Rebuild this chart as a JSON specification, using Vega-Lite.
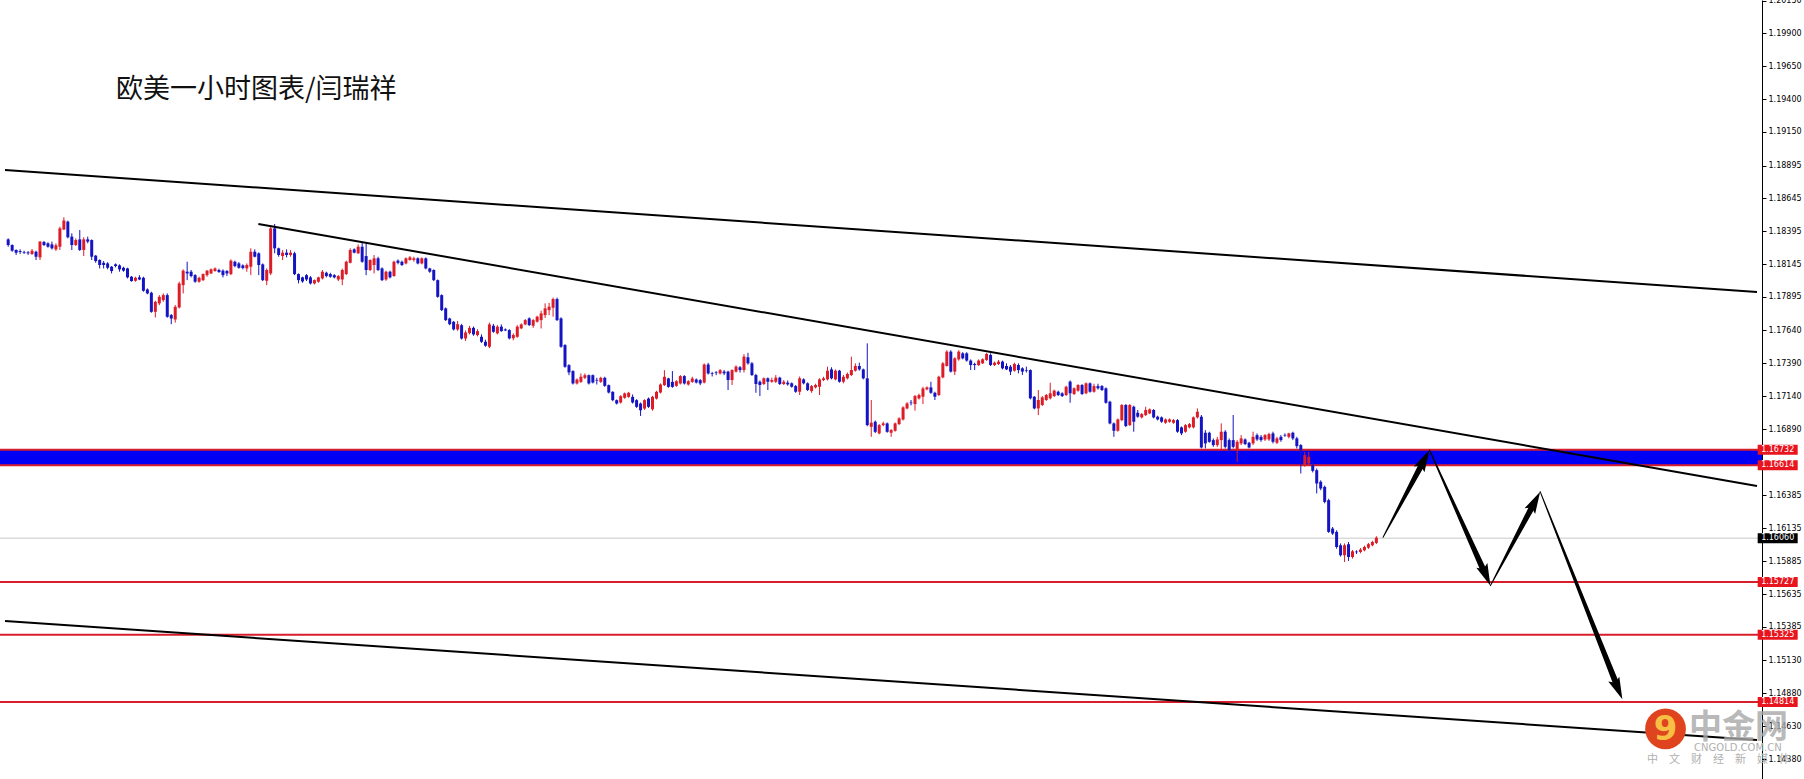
{
"$schema": "https://vega.github.io/schema/vega-lite/v6.json",
"width": 1762, "height": 779,
"autosize": {"type": "none"},
"padding": {"left": 0, "top": 0, "right": 42, "bottom": 0},
"background": "#ffffff",
"config": {"view": {"stroke": null},
  "axisY": {"zindex": 0, "labelFont": "DejaVu Sans", "labelFontSize": 8, "labelColor": "#000000", "tickColor": "#000000", "tickSize": 4, "labelPadding": 2, "domainColor": "#000000", "domainWidth": 1, "labelOverlap": false, "labelBound": false, "labelFlush": false, "grid": false}},
"datasets": {
"candles": [
{"i":1,"o":1.18333,"h":1.18341,"l":1.18277,"c":1.18290},
{"i":2,"o":1.18290,"h":1.18295,"l":1.18239,"c":1.18247},
{"i":3,"o":1.18252,"h":1.18257,"l":1.18215,"c":1.18232},
{"i":4,"o":1.18244,"h":1.18257,"l":1.18222,"c":1.18237},
{"i":5,"o":1.18237,"h":1.18247,"l":1.18222,"c":1.18232},
{"i":6,"o":1.18234,"h":1.18244,"l":1.18215,"c":1.18227},
{"i":7,"o":1.18222,"h":1.18260,"l":1.18215,"c":1.18247},
{"i":8,"o":1.18239,"h":1.18247,"l":1.18176,"c":1.18201},
{"i":9,"o":1.18196,"h":1.18321,"l":1.18176,"c":1.18316},
{"i":10,"o":1.18313,"h":1.18321,"l":1.18283,"c":1.18290},
{"i":11,"o":1.18303,"h":1.18311,"l":1.18270,"c":1.18277},
{"i":12,"o":1.18295,"h":1.18316,"l":1.18255,"c":1.18265},
{"i":13,"o":1.18257,"h":1.18303,"l":1.18245,"c":1.18288},
{"i":14,"o":1.18277,"h":1.18430,"l":1.18252,"c":1.18417},
{"i":15,"o":1.18409,"h":1.18501,"l":1.18404,"c":1.18476},
{"i":16,"o":1.18468,"h":1.18476,"l":1.18341,"c":1.18349},
{"i":17,"o":1.18354,"h":1.18379,"l":1.18252,"c":1.18290},
{"i":18,"o":1.18290,"h":1.18341,"l":1.18283,"c":1.18328},
{"i":19,"o":1.18333,"h":1.18404,"l":1.18245,"c":1.18252},
{"i":20,"o":1.18252,"h":1.18349,"l":1.18206,"c":1.18333},
{"i":21,"o":1.18333,"h":1.18354,"l":1.18303,"c":1.18316},
{"i":22,"o":1.18328,"h":1.18333,"l":1.18176,"c":1.18201},
{"i":23,"o":1.18209,"h":1.18214,"l":1.18155,"c":1.18168},
{"i":24,"o":1.18176,"h":1.18181,"l":1.18112,"c":1.18138},
{"i":25,"o":1.18155,"h":1.18168,"l":1.18112,"c":1.18138},
{"i":26,"o":1.18150,"h":1.18160,"l":1.18105,"c":1.18117},
{"i":27,"o":1.18125,"h":1.18130,"l":1.18074,"c":1.18092},
{"i":28,"o":1.18143,"h":1.18150,"l":1.18120,"c":1.18130},
{"i":29,"o":1.18135,"h":1.18143,"l":1.18087,"c":1.18105},
{"i":30,"o":1.18117,"h":1.18125,"l":1.18087,"c":1.18095},
{"i":31,"o":1.18112,"h":1.18117,"l":1.18036,"c":1.18044},
{"i":32,"o":1.18049,"h":1.18054,"l":1.18011,"c":1.18016},
{"i":33,"o":1.18018,"h":1.18049,"l":1.18011,"c":1.18041},
{"i":34,"o":1.18044,"h":1.18061,"l":1.18023,"c":1.18028},
{"i":35,"o":1.18041,"h":1.18049,"l":1.17935,"c":1.17942},
{"i":36,"o":1.17952,"h":1.17960,"l":1.17915,"c":1.17922},
{"i":37,"o":1.17927,"h":1.17935,"l":1.17775,"c":1.17782},
{"i":38,"o":1.17782,"h":1.17866,"l":1.17739,"c":1.17858},
{"i":39,"o":1.17846,"h":1.17909,"l":1.17833,"c":1.17896},
{"i":40,"o":1.17871,"h":1.17922,"l":1.17858,"c":1.17909},
{"i":41,"o":1.17909,"h":1.17922,"l":1.17737,"c":1.17744},
{"i":42,"o":1.17757,"h":1.17765,"l":1.17688,"c":1.17731},
{"i":43,"o":1.17724,"h":1.17833,"l":1.17700,"c":1.17820},
{"i":44,"o":1.17815,"h":1.18011,"l":1.17808,"c":1.17998},
{"i":45,"o":1.17985,"h":1.18105,"l":1.17922,"c":1.18095},
{"i":46,"o":1.18087,"h":1.18163,"l":1.18023,"c":1.18074},
{"i":47,"o":1.18087,"h":1.18100,"l":1.18044,"c":1.18054},
{"i":48,"o":1.18061,"h":1.18069,"l":1.18003,"c":1.18011},
{"i":49,"o":1.18011,"h":1.18049,"l":1.18003,"c":1.18041},
{"i":50,"o":1.18023,"h":1.18074,"l":1.18016,"c":1.18069},
{"i":51,"o":1.18061,"h":1.18100,"l":1.18049,"c":1.18095},
{"i":52,"o":1.18074,"h":1.18112,"l":1.18069,"c":1.18105},
{"i":53,"o":1.18092,"h":1.18120,"l":1.18087,"c":1.18112},
{"i":54,"o":1.18100,"h":1.18110,"l":1.18079,"c":1.18084},
{"i":55,"o":1.18095,"h":1.18105,"l":1.18044,"c":1.18061},
{"i":56,"o":1.18092,"h":1.18100,"l":1.18054,"c":1.18074},
{"i":57,"o":1.18069,"h":1.18181,"l":1.18061,"c":1.18171},
{"i":58,"o":1.18163,"h":1.18171,"l":1.18120,"c":1.18130},
{"i":59,"o":1.18150,"h":1.18160,"l":1.18110,"c":1.18117},
{"i":60,"o":1.18135,"h":1.18143,"l":1.18105,"c":1.18115},
{"i":61,"o":1.18112,"h":1.18150,"l":1.18087,"c":1.18138},
{"i":62,"o":1.18125,"h":1.18265,"l":1.18061,"c":1.18239},
{"i":63,"o":1.18239,"h":1.18257,"l":1.18196,"c":1.18201},
{"i":64,"o":1.18227,"h":1.18234,"l":1.18061,"c":1.18138},
{"i":65,"o":1.18143,"h":1.18150,"l":1.18016,"c":1.18023},
{"i":66,"o":1.18018,"h":1.18112,"l":1.17985,"c":1.18100},
{"i":67,"o":1.18074,"h":1.18442,"l":1.18061,"c":1.18417},
{"i":68,"o":1.18417,"h":1.18450,"l":1.18227,"c":1.18265},
{"i":69,"o":1.18265,"h":1.18270,"l":1.18201,"c":1.18214},
{"i":70,"o":1.18206,"h":1.18252,"l":1.18176,"c":1.18232},
{"i":71,"o":1.18232,"h":1.18257,"l":1.18196,"c":1.18214},
{"i":72,"o":1.18214,"h":1.18252,"l":1.18201,"c":1.18232},
{"i":73,"o":1.18227,"h":1.18239,"l":1.18061,"c":1.18069},
{"i":74,"o":1.18069,"h":1.18074,"l":1.17998,"c":1.18023},
{"i":75,"o":1.18044,"h":1.18049,"l":1.18003,"c":1.18013},
{"i":76,"o":1.18061,"h":1.18069,"l":1.18016,"c":1.18028},
{"i":77,"o":1.18044,"h":1.18054,"l":1.17990,"c":1.17998},
{"i":78,"o":1.17998,"h":1.18028,"l":1.17990,"c":1.18023},
{"i":79,"o":1.18011,"h":1.18049,"l":1.18003,"c":1.18044},
{"i":80,"o":1.18036,"h":1.18100,"l":1.18028,"c":1.18087},
{"i":81,"o":1.18079,"h":1.18087,"l":1.18044,"c":1.18054},
{"i":82,"o":1.18069,"h":1.18079,"l":1.18041,"c":1.18049},
{"i":83,"o":1.18061,"h":1.18069,"l":1.18036,"c":1.18044},
{"i":84,"o":1.18028,"h":1.18061,"l":1.18016,"c":1.18054},
{"i":85,"o":1.18028,"h":1.18110,"l":1.17985,"c":1.18100},
{"i":86,"o":1.18069,"h":1.18171,"l":1.18061,"c":1.18163},
{"i":87,"o":1.18155,"h":1.18265,"l":1.18150,"c":1.18252},
{"i":88,"o":1.18257,"h":1.18265,"l":1.18227,"c":1.18232},
{"i":89,"o":1.18227,"h":1.18295,"l":1.18222,"c":1.18277},
{"i":90,"o":1.18277,"h":1.18311,"l":1.18155,"c":1.18163},
{"i":91,"o":1.18206,"h":1.18303,"l":1.18061,"c":1.18100},
{"i":92,"o":1.18100,"h":1.18181,"l":1.18092,"c":1.18176},
{"i":93,"o":1.18138,"h":1.18214,"l":1.18074,"c":1.18189},
{"i":94,"o":1.18189,"h":1.18201,"l":1.18092,"c":1.18100},
{"i":95,"o":1.18112,"h":1.18120,"l":1.18016,"c":1.18023},
{"i":96,"o":1.18028,"h":1.18095,"l":1.18018,"c":1.18087},
{"i":97,"o":1.18087,"h":1.18095,"l":1.18036,"c":1.18044},
{"i":98,"o":1.18054,"h":1.18171,"l":1.18049,"c":1.18163},
{"i":99,"o":1.18171,"h":1.18181,"l":1.18143,"c":1.18155},
{"i":100,"o":1.18163,"h":1.18171,"l":1.18130,"c":1.18138},
{"i":101,"o":1.18150,"h":1.18196,"l":1.18143,"c":1.18189},
{"i":102,"o":1.18176,"h":1.18206,"l":1.18171,"c":1.18196},
{"i":103,"o":1.18176,"h":1.18201,"l":1.18163,"c":1.18189},
{"i":104,"o":1.18189,"h":1.18196,"l":1.18143,"c":1.18150},
{"i":105,"o":1.18150,"h":1.18196,"l":1.18143,"c":1.18189},
{"i":106,"o":1.18189,"h":1.18196,"l":1.18105,"c":1.18112},
{"i":107,"o":1.18112,"h":1.18117,"l":1.18079,"c":1.18087},
{"i":108,"o":1.18100,"h":1.18105,"l":1.18016,"c":1.18023},
{"i":109,"o":1.18023,"h":1.18028,"l":1.17889,"c":1.17896},
{"i":110,"o":1.17909,"h":1.17915,"l":1.17788,"c":1.17795},
{"i":111,"o":1.17808,"h":1.17815,"l":1.17712,"c":1.17719},
{"i":112,"o":1.17731,"h":1.17737,"l":1.17680,"c":1.17688},
{"i":113,"o":1.17706,"h":1.17712,"l":1.17640,"c":1.17648},
{"i":114,"o":1.17648,"h":1.17712,"l":1.17637,"c":1.17688},
{"i":115,"o":1.17680,"h":1.17690,"l":1.17571,"c":1.17579},
{"i":116,"o":1.17579,"h":1.17640,"l":1.17560,"c":1.17625},
{"i":117,"o":1.17620,"h":1.17675,"l":1.17610,"c":1.17660},
{"i":118,"o":1.17660,"h":1.17670,"l":1.17600,"c":1.17610},
{"i":119,"o":1.17605,"h":1.17650,"l":1.17595,"c":1.17635},
{"i":120,"o":1.17592,"h":1.17610,"l":1.17545,"c":1.17554},
{"i":121,"o":1.17554,"h":1.17570,"l":1.17516,"c":1.17524},
{"i":122,"o":1.17516,"h":1.17700,"l":1.17505,"c":1.17686},
{"i":123,"o":1.17676,"h":1.17690,"l":1.17622,"c":1.17630},
{"i":124,"o":1.17618,"h":1.17681,"l":1.17610,"c":1.17669},
{"i":125,"o":1.17669,"h":1.17686,"l":1.17630,"c":1.17635},
{"i":126,"o":1.17648,"h":1.17656,"l":1.17635,"c":1.17640},
{"i":127,"o":1.17643,"h":1.17650,"l":1.17572,"c":1.17580},
{"i":128,"o":1.17580,"h":1.17618,"l":1.17565,"c":1.17605},
{"i":129,"o":1.17592,"h":1.17681,"l":1.17585,"c":1.17669},
{"i":130,"o":1.17656,"h":1.17694,"l":1.17650,"c":1.17686},
{"i":131,"o":1.17686,"h":1.17727,"l":1.17680,"c":1.17719},
{"i":132,"o":1.17732,"h":1.17740,"l":1.17674,"c":1.17681},
{"i":133,"o":1.17676,"h":1.17727,"l":1.17660,"c":1.17719},
{"i":134,"o":1.17707,"h":1.17752,"l":1.17700,"c":1.17745},
{"i":135,"o":1.17719,"h":1.17790,"l":1.17655,"c":1.17770},
{"i":136,"o":1.17757,"h":1.17846,"l":1.17735,"c":1.17808},
{"i":137,"o":1.17795,"h":1.17850,"l":1.17757,"c":1.17821},
{"i":138,"o":1.17813,"h":1.17890,"l":1.17745,"c":1.17879},
{"i":139,"o":1.17879,"h":1.17890,"l":1.17712,"c":1.17719},
{"i":140,"o":1.17732,"h":1.17740,"l":1.17509,"c":1.17516},
{"i":141,"o":1.17529,"h":1.17536,"l":1.17356,"c":1.17364},
{"i":142,"o":1.17376,"h":1.17384,"l":1.17300,"c":1.17321},
{"i":143,"o":1.17331,"h":1.17338,"l":1.17229,"c":1.17237},
{"i":144,"o":1.17237,"h":1.17275,"l":1.17229,"c":1.17267},
{"i":145,"o":1.17249,"h":1.17313,"l":1.17241,"c":1.17288},
{"i":146,"o":1.17280,"h":1.17313,"l":1.17270,"c":1.17300},
{"i":147,"o":1.17300,"h":1.17305,"l":1.17229,"c":1.17237},
{"i":148,"o":1.17300,"h":1.17305,"l":1.17237,"c":1.17244},
{"i":149,"o":1.17264,"h":1.17280,"l":1.17229,"c":1.17259},
{"i":150,"o":1.17249,"h":1.17288,"l":1.17241,"c":1.17280},
{"i":151,"o":1.17280,"h":1.17288,"l":1.17211,"c":1.17219},
{"i":152,"o":1.17224,"h":1.17229,"l":1.17161,"c":1.17168},
{"i":153,"o":1.17173,"h":1.17178,"l":1.17102,"c":1.17110},
{"i":154,"o":1.17110,"h":1.17115,"l":1.17077,"c":1.17084},
{"i":155,"o":1.17092,"h":1.17148,"l":1.17084,"c":1.17140},
{"i":156,"o":1.17128,"h":1.17168,"l":1.17120,"c":1.17161},
{"i":157,"o":1.17135,"h":1.17173,"l":1.17128,"c":1.17166},
{"i":158,"o":1.17135,"h":1.17153,"l":1.17084,"c":1.17092},
{"i":159,"o":1.17110,"h":1.17117,"l":1.17051,"c":1.17059},
{"i":160,"o":1.17084,"h":1.17092,"l":1.16990,"c":1.17033},
{"i":161,"o":1.17046,"h":1.17117,"l":1.17036,"c":1.17110},
{"i":162,"o":1.17122,"h":1.17130,"l":1.17051,"c":1.17059},
{"i":163,"o":1.17041,"h":1.17143,"l":1.17030,"c":1.17135},
{"i":164,"o":1.17122,"h":1.17181,"l":1.17115,"c":1.17173},
{"i":165,"o":1.17168,"h":1.17237,"l":1.17161,"c":1.17229},
{"i":166,"o":1.17224,"h":1.17338,"l":1.17218,"c":1.17288},
{"i":167,"o":1.17275,"h":1.17280,"l":1.17204,"c":1.17211},
{"i":168,"o":1.17249,"h":1.17331,"l":1.17204,"c":1.17211},
{"i":169,"o":1.17219,"h":1.17262,"l":1.17211,"c":1.17254},
{"i":170,"o":1.17237,"h":1.17300,"l":1.17229,"c":1.17293},
{"i":171,"o":1.17293,"h":1.17300,"l":1.17229,"c":1.17237},
{"i":172,"o":1.17229,"h":1.17262,"l":1.17221,"c":1.17254},
{"i":173,"o":1.17249,"h":1.17288,"l":1.17241,"c":1.17275},
{"i":174,"o":1.17267,"h":1.17275,"l":1.17237,"c":1.17244},
{"i":175,"o":1.17262,"h":1.17270,"l":1.17224,"c":1.17237},
{"i":176,"o":1.17244,"h":1.17389,"l":1.17237,"c":1.17381},
{"i":177,"o":1.17381,"h":1.17394,"l":1.17305,"c":1.17313},
{"i":178,"o":1.17316,"h":1.17325,"l":1.17290,"c":1.17311},
{"i":179,"o":1.17321,"h":1.17331,"l":1.17300,"c":1.17316},
{"i":180,"o":1.17313,"h":1.17346,"l":1.17305,"c":1.17338},
{"i":181,"o":1.17327,"h":1.17340,"l":1.17300,"c":1.17314},
{"i":182,"o":1.17327,"h":1.17334,"l":1.17187,"c":1.17263},
{"i":183,"o":1.17263,"h":1.17344,"l":1.17225,"c":1.17339},
{"i":184,"o":1.17327,"h":1.17375,"l":1.17320,"c":1.17365},
{"i":185,"o":1.17360,"h":1.17370,"l":1.17320,"c":1.17339},
{"i":186,"o":1.17339,"h":1.17460,"l":1.17320,"c":1.17441},
{"i":187,"o":1.17436,"h":1.17470,"l":1.17380,"c":1.17390},
{"i":188,"o":1.17390,"h":1.17400,"l":1.17294,"c":1.17301},
{"i":189,"o":1.17301,"h":1.17310,"l":1.17166,"c":1.17233},
{"i":190,"o":1.17250,"h":1.17260,"l":1.17141,"c":1.17225},
{"i":191,"o":1.17233,"h":1.17283,"l":1.17225,"c":1.17276},
{"i":192,"o":1.17276,"h":1.17283,"l":1.17187,"c":1.17250},
{"i":193,"o":1.17250,"h":1.17281,"l":1.17243,"c":1.17263},
{"i":194,"o":1.17250,"h":1.17301,"l":1.17240,"c":1.17281},
{"i":195,"o":1.17281,"h":1.17288,"l":1.17225,"c":1.17233},
{"i":196,"o":1.17233,"h":1.17263,"l":1.17225,"c":1.17250},
{"i":197,"o":1.17243,"h":1.17260,"l":1.17220,"c":1.17230},
{"i":198,"o":1.17238,"h":1.17245,"l":1.17205,"c":1.17212},
{"i":199,"o":1.17217,"h":1.17225,"l":1.17166,"c":1.17174},
{"i":200,"o":1.17174,"h":1.17290,"l":1.17149,"c":1.17276},
{"i":201,"o":1.17268,"h":1.17276,"l":1.17230,"c":1.17238},
{"i":202,"o":1.17238,"h":1.17245,"l":1.17179,"c":1.17187},
{"i":203,"o":1.17179,"h":1.17225,"l":1.17166,"c":1.17217},
{"i":204,"o":1.17207,"h":1.17235,"l":1.17199,"c":1.17225},
{"i":205,"o":1.17212,"h":1.17276,"l":1.17149,"c":1.17268},
{"i":206,"o":1.17263,"h":1.17288,"l":1.17255,"c":1.17276},
{"i":207,"o":1.17268,"h":1.17365,"l":1.17260,"c":1.17334},
{"i":208,"o":1.17344,"h":1.17360,"l":1.17268,"c":1.17276},
{"i":209,"o":1.17268,"h":1.17344,"l":1.17260,"c":1.17334},
{"i":210,"o":1.17334,"h":1.17340,"l":1.17243,"c":1.17250},
{"i":211,"o":1.17250,"h":1.17301,"l":1.17238,"c":1.17288},
{"i":212,"o":1.17276,"h":1.17320,"l":1.17268,"c":1.17309},
{"i":213,"o":1.17301,"h":1.17441,"l":1.17294,"c":1.17339},
{"i":214,"o":1.17334,"h":1.17390,"l":1.17327,"c":1.17370},
{"i":215,"o":1.17370,"h":1.17395,"l":1.17334,"c":1.17344},
{"i":216,"o":1.17344,"h":1.17350,"l":1.17268,"c":1.17276},
{"i":217,"o":1.17276,"h":1.17542,"l":1.16912,"c":1.16920},
{"i":218,"o":1.16907,"h":1.17111,"l":1.16831,"c":1.16938},
{"i":219,"o":1.16946,"h":1.16955,"l":1.16860,"c":1.16869},
{"i":220,"o":1.16857,"h":1.16928,"l":1.16850,"c":1.16920},
{"i":221,"o":1.16920,"h":1.16946,"l":1.16912,"c":1.16933},
{"i":222,"o":1.16933,"h":1.16940,"l":1.16862,"c":1.16869},
{"i":223,"o":1.16862,"h":1.16890,"l":1.16831,"c":1.16882},
{"i":224,"o":1.16877,"h":1.16940,"l":1.16870,"c":1.16933},
{"i":225,"o":1.16928,"h":1.16980,"l":1.16920,"c":1.16971},
{"i":226,"o":1.16963,"h":1.17063,"l":1.16955,"c":1.17055},
{"i":227,"o":1.17047,"h":1.17095,"l":1.17040,"c":1.17085},
{"i":228,"o":1.17092,"h":1.17111,"l":1.17070,"c":1.17087},
{"i":229,"o":1.17080,"h":1.17149,"l":1.17030,"c":1.17141},
{"i":230,"o":1.17123,"h":1.17160,"l":1.17115,"c":1.17149},
{"i":231,"o":1.17136,"h":1.17212,"l":1.17080,"c":1.17199},
{"i":232,"o":1.17192,"h":1.17215,"l":1.17185,"c":1.17207},
{"i":233,"o":1.17207,"h":1.17250,"l":1.17158,"c":1.17166},
{"i":234,"o":1.17166,"h":1.17174,"l":1.17111,"c":1.17136},
{"i":235,"o":1.17149,"h":1.17296,"l":1.17141,"c":1.17288},
{"i":236,"o":1.17283,"h":1.17400,"l":1.17276,"c":1.17390},
{"i":237,"o":1.17370,"h":1.17490,"l":1.17365,"c":1.17479},
{"i":238,"o":1.17479,"h":1.17490,"l":1.17320,"c":1.17327},
{"i":239,"o":1.17327,"h":1.17436,"l":1.17301,"c":1.17428},
{"i":240,"o":1.17420,"h":1.17490,"l":1.17410,"c":1.17479},
{"i":241,"o":1.17466,"h":1.17475,"l":1.17420,"c":1.17428},
{"i":242,"o":1.17466,"h":1.17475,"l":1.17403,"c":1.17411},
{"i":243,"o":1.17411,"h":1.17420,"l":1.17339,"c":1.17377},
{"i":244,"o":1.17385,"h":1.17395,"l":1.17339,"c":1.17377},
{"i":245,"o":1.17377,"h":1.17420,"l":1.17370,"c":1.17411},
{"i":246,"o":1.17390,"h":1.17428,"l":1.17385,"c":1.17421},
{"i":247,"o":1.17416,"h":1.17470,"l":1.17408,"c":1.17461},
{"i":248,"o":1.17454,"h":1.17466,"l":1.17370,"c":1.17377},
{"i":249,"o":1.17377,"h":1.17403,"l":1.17370,"c":1.17395},
{"i":250,"o":1.17385,"h":1.17416,"l":1.17377,"c":1.17403},
{"i":251,"o":1.17403,"h":1.17411,"l":1.17344,"c":1.17352},
{"i":252,"o":1.17370,"h":1.17390,"l":1.17339,"c":1.17344},
{"i":253,"o":1.17365,"h":1.17377,"l":1.17301,"c":1.17327},
{"i":254,"o":1.17334,"h":1.17395,"l":1.17327,"c":1.17385},
{"i":255,"o":1.17377,"h":1.17390,"l":1.17314,"c":1.17339},
{"i":256,"o":1.17352,"h":1.17360,"l":1.17301,"c":1.17327},
{"i":257,"o":1.17339,"h":1.17365,"l":1.17320,"c":1.17334},
{"i":258,"o":1.17339,"h":1.17344,"l":1.17116,"c":1.17124},
{"i":259,"o":1.17136,"h":1.17141,"l":1.17040,"c":1.17047},
{"i":260,"o":1.17047,"h":1.17187,"l":1.16996,"c":1.17111},
{"i":261,"o":1.17073,"h":1.17141,"l":1.17065,"c":1.17131},
{"i":262,"o":1.17111,"h":1.17157,"l":1.17104,"c":1.17149},
{"i":263,"o":1.17124,"h":1.17243,"l":1.17116,"c":1.17162},
{"i":264,"o":1.17141,"h":1.17190,"l":1.17134,"c":1.17182},
{"i":265,"o":1.17174,"h":1.17182,"l":1.17141,"c":1.17149},
{"i":266,"o":1.17162,"h":1.17170,"l":1.17134,"c":1.17141},
{"i":267,"o":1.17149,"h":1.17220,"l":1.17141,"c":1.17212},
{"i":268,"o":1.17251,"h":1.17260,"l":1.17090,"c":1.17162},
{"i":269,"o":1.17157,"h":1.17207,"l":1.17149,"c":1.17200},
{"i":270,"o":1.17182,"h":1.17232,"l":1.17174,"c":1.17225},
{"i":271,"o":1.17225,"h":1.17232,"l":1.17149,"c":1.17157},
{"i":272,"o":1.17162,"h":1.17245,"l":1.17155,"c":1.17238},
{"i":273,"o":1.17238,"h":1.17245,"l":1.17167,"c":1.17174},
{"i":274,"o":1.17174,"h":1.17235,"l":1.17167,"c":1.17217},
{"i":275,"o":1.17217,"h":1.17235,"l":1.17190,"c":1.17200},
{"i":276,"o":1.17217,"h":1.17225,"l":1.17180,"c":1.17187},
{"i":277,"o":1.17200,"h":1.17207,"l":1.17083,"c":1.17090},
{"i":278,"o":1.17098,"h":1.17105,"l":1.16926,"c":1.16933},
{"i":279,"o":1.16933,"h":1.16940,"l":1.16831,"c":1.16877},
{"i":280,"o":1.16877,"h":1.16971,"l":1.16870,"c":1.16963},
{"i":281,"o":1.16958,"h":1.17080,"l":1.16950,"c":1.17073},
{"i":282,"o":1.17073,"h":1.17080,"l":1.16905,"c":1.16913},
{"i":283,"o":1.16920,"h":1.17080,"l":1.16913,"c":1.17073},
{"i":284,"o":1.17060,"h":1.17068,"l":1.16870,"c":1.16946},
{"i":285,"o":1.17014,"h":1.17035,"l":1.16976,"c":1.16984},
{"i":286,"o":1.16979,"h":1.17012,"l":1.16971,"c":1.17004},
{"i":287,"o":1.16996,"h":1.17060,"l":1.16990,"c":1.17035},
{"i":288,"o":1.17009,"h":1.17047,"l":1.17004,"c":1.17040},
{"i":289,"o":1.17035,"h":1.17042,"l":1.16971,"c":1.16979},
{"i":290,"o":1.16984,"h":1.16992,"l":1.16956,"c":1.16963},
{"i":291,"o":1.16979,"h":1.16986,"l":1.16938,"c":1.16946},
{"i":292,"o":1.16938,"h":1.16971,"l":1.16930,"c":1.16963},
{"i":293,"o":1.16946,"h":1.16971,"l":1.16938,"c":1.16963},
{"i":294,"o":1.16938,"h":1.16966,"l":1.16930,"c":1.16958},
{"i":295,"o":1.16958,"h":1.16966,"l":1.16862,"c":1.16870},
{"i":296,"o":1.16903,"h":1.16910,"l":1.16844,"c":1.16857},
{"i":297,"o":1.16870,"h":1.16928,"l":1.16862,"c":1.16920},
{"i":298,"o":1.16903,"h":1.16936,"l":1.16895,"c":1.16928},
{"i":299,"o":1.16903,"h":1.16986,"l":1.16895,"c":1.16979},
{"i":300,"o":1.16979,"h":1.17047,"l":1.16970,"c":1.17022},
{"i":301,"o":1.16984,"h":1.16997,"l":1.16743,"c":1.16750},
{"i":302,"o":1.16862,"h":1.16882,"l":1.16743,"c":1.16781},
{"i":303,"o":1.16862,"h":1.16870,"l":1.16786,"c":1.16793},
{"i":304,"o":1.16806,"h":1.16819,"l":1.16755,"c":1.16768},
{"i":305,"o":1.16768,"h":1.16831,"l":1.16755,"c":1.16811},
{"i":306,"o":1.16806,"h":1.16933,"l":1.16730,"c":1.16870},
{"i":307,"o":1.16870,"h":1.16882,"l":1.16743,"c":1.16755},
{"i":308,"o":1.16806,"h":1.16819,"l":1.16717,"c":1.16730},
{"i":309,"o":1.16806,"h":1.16997,"l":1.16743,"c":1.16755},
{"i":310,"o":1.16730,"h":1.16806,"l":1.16641,"c":1.16793},
{"i":311,"o":1.16781,"h":1.16844,"l":1.16768,"c":1.16819},
{"i":312,"o":1.16811,"h":1.16819,"l":1.16768,"c":1.16776},
{"i":313,"o":1.16786,"h":1.16793,"l":1.16743,"c":1.16750},
{"i":314,"o":1.16781,"h":1.16870,"l":1.16768,"c":1.16831},
{"i":315,"o":1.16844,"h":1.16857,"l":1.16800,"c":1.16811},
{"i":316,"o":1.16831,"h":1.16844,"l":1.16793,"c":1.16806},
{"i":317,"o":1.16811,"h":1.16852,"l":1.16800,"c":1.16844},
{"i":318,"o":1.16811,"h":1.16862,"l":1.16800,"c":1.16852},
{"i":319,"o":1.16857,"h":1.16870,"l":1.16781,"c":1.16793},
{"i":320,"o":1.16786,"h":1.16831,"l":1.16776,"c":1.16819},
{"i":321,"o":1.16831,"h":1.16844,"l":1.16793,"c":1.16806},
{"i":322,"o":1.16846,"h":1.16857,"l":1.16831,"c":1.16841},
{"i":323,"o":1.16831,"h":1.16862,"l":1.16819,"c":1.16857},
{"i":324,"o":1.16862,"h":1.16870,"l":1.16806,"c":1.16819},
{"i":325,"o":1.16819,"h":1.16831,"l":1.16743,"c":1.16760},
{"i":326,"o":1.16768,"h":1.16776,"l":1.16552,"c":1.16730},
{"i":327,"o":1.16616,"h":1.16717,"l":1.16603,"c":1.16692},
{"i":328,"o":1.16628,"h":1.16717,"l":1.16616,"c":1.16679},
{"i":329,"o":1.16616,"h":1.16641,"l":1.16560,"c":1.16572},
{"i":330,"o":1.16577,"h":1.16590,"l":1.16400,"c":1.16476},
{"i":331,"o":1.16489,"h":1.16500,"l":1.16425,"c":1.16438},
{"i":332,"o":1.16450,"h":1.16460,"l":1.16325,"c":1.16336},
{"i":333,"o":1.16349,"h":1.16360,"l":1.16100,"c":1.16108},
{"i":334,"o":1.16133,"h":1.16145,"l":1.16085,"c":1.16095},
{"i":335,"o":1.16108,"h":1.16120,"l":1.15980,"c":1.15993},
{"i":336,"o":1.16006,"h":1.16020,"l":1.15920,"c":1.15930},
{"i":337,"o":1.15930,"h":1.16020,"l":1.15879,"c":1.16006},
{"i":338,"o":1.16014,"h":1.16031,"l":1.15887,"c":1.15917},
{"i":339,"o":1.15917,"h":1.15970,"l":1.15905,"c":1.15960},
{"i":340,"o":1.15958,"h":1.15968,"l":1.15940,"c":1.15953},
{"i":341,"o":1.15955,"h":1.15985,"l":1.15945,"c":1.15973},
{"i":342,"o":1.15968,"h":1.16003,"l":1.15960,"c":1.15993},
{"i":343,"o":1.15988,"h":1.16024,"l":1.15978,"c":1.16014},
{"i":344,"o":1.16006,"h":1.16040,"l":1.15998,"c":1.16031},
{"i":345,"o":1.16024,"h":1.16075,"l":1.16015,"c":1.16064}
],
"tags": [
  {"p": 1.16732, "k": "r"}, {"p": 1.16614, "k": "r"}, {"p": 1.1606, "k": "b"},
  {"p": 1.15727, "k": "r"}, {"p": 1.15325, "k": "r"}, {"p": 1.14814, "k": "r"}]
},
"layer": [
{"data": {"values": [{"lo": 1.16614, "hi": 1.16732}]},
 "mark": {"type": "rect", "color": "#0000f5"},
 "encoding": {
  "y": {"field": "lo", "type": "quantitative", "scale": {"domain": [1.14228, 1.20154], "nice": false, "zero": false},
   "axis": {"orient": "right", "title": null, "format": ".5f", "values": [1.2015,1.199,1.1965,1.194,1.1915,1.18895,1.18645,1.18395,1.18145,1.17895,1.1764,1.1739,1.1714,1.1689,1.16385,1.16135,1.15885,1.15635,1.15385,1.1513,1.1488,1.1463,1.1438]}},
  "y2": {"field": "hi"}
 }},
{"data": {"values": [{"p": 1.16732}, {"p": 1.16614}, {"p": 1.15727}, {"p": 1.15325}, {"p": 1.14814}]},
 "mark": {"type": "rule", "color": "#d81e2a", "strokeWidth": 2},
 "encoding": {"y": {"field": "p", "type": "quantitative", "scale": {"domain": [1.14228, 1.20154], "nice": false, "zero": false},
   "axis": {"orient": "right", "title": null, "format": ".5f", "values": [1.2015,1.199,1.1965,1.194,1.1915,1.18895,1.18645,1.18395,1.18145,1.17895,1.1764,1.1739,1.1714,1.1689,1.16385,1.16135,1.15885,1.15635,1.15385,1.1513,1.1488,1.1463,1.1438]}}}},
{"data": {"values": [{"p": 1.1606}]},
 "mark": {"type": "rule", "color": "#c8c8c8", "strokeWidth": 1},
 "encoding": {"y": {"field": "p", "type": "quantitative", "scale": {"domain": [1.14228, 1.20154], "nice": false, "zero": false},
   "axis": {"orient": "right", "title": null, "format": ".5f", "values": [1.2015,1.199,1.1965,1.194,1.1915,1.18895,1.18645,1.18395,1.18145,1.17895,1.1764,1.1739,1.1714,1.1689,1.16385,1.16135,1.15885,1.15635,1.15385,1.1513,1.1488,1.1463,1.1438]}}}},
{"data": {"name": "candles"},
 "mark": {"type": "rule", "strokeWidth": 1},
 "encoding": {
  "x": {"field": "i", "type": "quantitative", "scale": {"domain": [0.2, 440.7], "nice": false, "zero": false}, "axis": null},
  "y": {"field": "l", "type": "quantitative", "scale": {"domain": [1.14228, 1.20154], "nice": false, "zero": false},
   "axis": {"orient": "right", "title": null, "format": ".5f", "values": [1.2015,1.199,1.1965,1.194,1.1915,1.18895,1.18645,1.18395,1.18145,1.17895,1.1764,1.1739,1.1714,1.1689,1.16385,1.16135,1.15885,1.15635,1.15385,1.1513,1.1488,1.1463,1.1438]}},
  "y2": {"field": "h"},
  "color": {"condition": {"test": "datum.c >= datum.o", "value": "#dc1c26"}, "value": "#1414c2"}
 }},
{"data": {"name": "candles"},
 "mark": {"type": "bar", "width": 3},
 "encoding": {
  "x": {"field": "i", "type": "quantitative", "scale": {"domain": [0.2, 440.7], "nice": false, "zero": false}, "axis": null},
  "y": {"field": "o", "type": "quantitative", "scale": {"domain": [1.14228, 1.20154], "nice": false, "zero": false},
   "axis": {"orient": "right", "title": null, "format": ".5f", "values": [1.2015,1.199,1.1965,1.194,1.1915,1.18895,1.18645,1.18395,1.18145,1.17895,1.1764,1.1739,1.1714,1.1689,1.16385,1.16135,1.15885,1.15635,1.15385,1.1513,1.1488,1.1463,1.1438]}},
  "y2": {"field": "c"},
  "color": {"condition": {"test": "datum.c >= datum.o", "value": "#dc1c26"}, "value": "#1414c2"}
 }},
{"data": {"values": [
  {"ln": "a", "i": 0.2, "p": 1.18861}, {"ln": "a", "i": 440.7, "p": 1.17933},
  {"ln": "b", "i": 63.9, "p": 1.18450}, {"ln": "b", "i": 440.7, "p": 1.16457},
  {"ln": "c", "i": 0.2, "p": 1.15430}, {"ln": "c", "i": 440.7, "p": 1.14525}]},
 "mark": {"type": "line", "color": "#000000", "strokeWidth": 2},
 "encoding": {
  "x": {"field": "i", "type": "quantitative", "scale": {"domain": [0.2, 440.7], "nice": false, "zero": false}, "axis": null},
  "y": {"field": "p", "type": "quantitative", "scale": {"domain": [1.14228, 1.20154], "nice": false, "zero": false},
   "axis": {"orient": "right", "title": null, "format": ".5f", "values": [1.2015,1.199,1.1965,1.194,1.1915,1.18895,1.18645,1.18395,1.18145,1.17895,1.1764,1.1739,1.1714,1.1689,1.16385,1.16135,1.15885,1.15635,1.15385,1.1513,1.1488,1.1463,1.1438]}},
  "detail": {"field": "ln"}
 }},
{"data": {"values": [
  {"a": 1, "pt": "s", "i": 346.68, "p": 1.16067}, {"a": 1, "pt": "e", "i": 356.48, "p": 1.16624},
  {"a": 2, "pt": "s", "i": 358.35, "p": 1.16731}, {"a": 2, "pt": "e", "i": 372.03, "p": 1.15810},
  {"a": 3, "pt": "s", "i": 373.68, "p": 1.15699}, {"a": 3, "pt": "e", "i": 384.30, "p": 1.16306},
  {"a": 4, "pt": "s", "i": 386.18, "p": 1.16414}, {"a": 4, "pt": "e", "i": 405.38, "p": 1.14948}]},
 "mark": {"type": "trail", "color": "#000000"},
 "encoding": {
  "x": {"field": "i", "type": "quantitative", "scale": {"domain": [0.2, 440.7], "nice": false, "zero": false}, "axis": null},
  "y": {"field": "p", "type": "quantitative", "scale": {"domain": [1.14228, 1.20154], "nice": false, "zero": false},
   "axis": {"orient": "right", "title": null, "format": ".5f", "values": [1.2015,1.199,1.1965,1.194,1.1915,1.18895,1.18645,1.18395,1.18145,1.17895,1.1764,1.1739,1.1714,1.1689,1.16385,1.16135,1.15885,1.15635,1.15385,1.1513,1.1488,1.1463,1.1438]}},
  "size": {"field": "pt", "type": "ordinal", "scale": {"domain": ["s", "e"], "range": [1, 6]}, "legend": null},
  "detail": {"field": "a"}
 }},
{"data": {"values": [{"a": 1, "i": 358.35, "p": 1.16731}, {"a": 3, "i": 386.18, "p": 1.16414}]},
 "mark": {"type": "point", "shape": "M0,0L0.6,2.2L0,1.8L-0.6,2.2Z", "size": 400, "filled": true, "color": "#000000", "opacity": 1, "strokeWidth": 0, "angle": 28},
 "encoding": {
  "x": {"field": "i", "type": "quantitative", "scale": {"domain": [0.2, 440.7], "nice": false, "zero": false}, "axis": null},
  "y": {"field": "p", "type": "quantitative", "scale": {"domain": [1.14228, 1.20154], "nice": false, "zero": false},
   "axis": {"orient": "right", "title": null, "format": ".5f", "values": [1.2015,1.199,1.1965,1.194,1.1915,1.18895,1.18645,1.18395,1.18145,1.17895,1.1764,1.1739,1.1714,1.1689,1.16385,1.16135,1.15885,1.15635,1.15385,1.1513,1.1488,1.1463,1.1438]}}
 }},
{"data": {"values": [{"a": 2, "i": 373.68, "p": 1.15699}, {"a": 4, "i": 406.85, "p": 1.14834}]},
 "mark": {"type": "point", "shape": "M0,0L0.6,2.2L0,1.8L-0.6,2.2Z", "size": 400, "filled": true, "color": "#000000", "opacity": 1, "strokeWidth": 0, "angle": 157},
 "encoding": {
  "x": {"field": "i", "type": "quantitative", "scale": {"domain": [0.2, 440.7], "nice": false, "zero": false}, "axis": null},
  "y": {"field": "p", "type": "quantitative", "scale": {"domain": [1.14228, 1.20154], "nice": false, "zero": false},
   "axis": {"orient": "right", "title": null, "format": ".5f", "values": [1.2015,1.199,1.1965,1.194,1.1915,1.18895,1.18645,1.18395,1.18145,1.17895,1.1764,1.1739,1.1714,1.1689,1.16385,1.16135,1.15885,1.15635,1.15385,1.1513,1.1488,1.1463,1.1438]}}
 }},
{"data": {"values": [{"i": 417.7, "p": 1.14609}]},
 "mark": {"type": "point", "shape": "circle", "size": 1660, "filled": true, "color": "#e0441e", "opacity": 1, "strokeWidth": 0},
 "encoding": {
  "x": {"field": "i", "type": "quantitative", "scale": {"domain": [0.2, 440.7], "nice": false, "zero": false}, "axis": null},
  "y": {"field": "p", "type": "quantitative", "scale": {"domain": [1.14228, 1.20154], "nice": false, "zero": false},
   "axis": {"orient": "right", "title": null, "format": ".5f", "values": [1.2015,1.199,1.1965,1.194,1.1915,1.18895,1.18645,1.18395,1.18145,1.17895,1.1764,1.1739,1.1714,1.1689,1.16385,1.16135,1.15885,1.15635,1.15385,1.1513,1.1488,1.1463,1.1438]}}
 }},
{"data": {"values": [{"i": 417.7, "p": 1.14609, "t": "9"}]},
 "mark": {"type": "text", "font": "DejaVu Sans", "fontSize": 34, "fontWeight": "bold", "color": "#f8bf45", "align": "center", "baseline": "middle", "dy": 1},
 "encoding": {
  "x": {"field": "i", "type": "quantitative", "scale": {"domain": [0.2, 440.7], "nice": false, "zero": false}, "axis": null},
  "y": {"field": "p", "type": "quantitative", "scale": {"domain": [1.14228, 1.20154], "nice": false, "zero": false},
   "axis": {"orient": "right", "title": null, "format": ".5f", "values": [1.2015,1.199,1.1965,1.194,1.1915,1.18895,1.18645,1.18395,1.18145,1.17895,1.1764,1.1739,1.1714,1.1689,1.16385,1.16135,1.15885,1.15635,1.15385,1.1513,1.1488,1.1463,1.1438]}},
  "text": {"field": "t"}
 }},
{"data": {"values": [{"i": 436.05, "p": 1.14616, "t": "中金网"}]},
 "mark": {"type": "text", "font": "Noto Sans CJK SC", "fontSize": 33, "fontWeight": "bold", "color": "#a8a8a8", "opacity": 0.8, "align": "center", "baseline": "middle"},
 "encoding": {
  "x": {"field": "i", "type": "quantitative", "scale": {"domain": [0.2, 440.7], "nice": false, "zero": false}, "axis": null},
  "y": {"field": "p", "type": "quantitative", "scale": {"domain": [1.14228, 1.20154], "nice": false, "zero": false},
   "axis": {"orient": "right", "title": null, "format": ".5f", "values": [1.2015,1.199,1.1965,1.194,1.1915,1.18895,1.18645,1.18395,1.18145,1.17895,1.1764,1.1739,1.1714,1.1689,1.16385,1.16135,1.15885,1.15635,1.15385,1.1513,1.1488,1.1463,1.1438]}},
  "text": {"field": "t"}
 }},
{"data": {"values": [{"i": 435.9, "p": 1.14464, "t": "CNGOLD.COM.CN"}]},
 "mark": {"type": "text", "font": "DejaVu Sans", "fontSize": 10, "color": "#b0b0b0", "align": "center", "baseline": "middle"},
 "encoding": {
  "x": {"field": "i", "type": "quantitative", "scale": {"domain": [0.2, 440.7], "nice": false, "zero": false}, "axis": null},
  "y": {"field": "p", "type": "quantitative", "scale": {"domain": [1.14228, 1.20154], "nice": false, "zero": false},
   "axis": {"orient": "right", "title": null, "format": ".5f", "values": [1.2015,1.199,1.1965,1.194,1.1915,1.18895,1.18645,1.18395,1.18145,1.17895,1.1764,1.1739,1.1714,1.1689,1.16385,1.16135,1.15885,1.15635,1.15385,1.1513,1.1488,1.1463,1.1438]}},
  "text": {"field": "t"}
 }},
{"data": {"values": [{"i": 431.0, "p": 1.14373, "t": "中　文　财　经　新　媒　体"}]},
 "mark": {"type": "text", "font": "Noto Sans CJK SC", "fontSize": 11, "color": "#b0b0b0", "align": "center", "baseline": "middle"},
 "encoding": {
  "x": {"field": "i", "type": "quantitative", "scale": {"domain": [0.2, 440.7], "nice": false, "zero": false}, "axis": null},
  "y": {"field": "p", "type": "quantitative", "scale": {"domain": [1.14228, 1.20154], "nice": false, "zero": false},
   "axis": {"orient": "right", "title": null, "format": ".5f", "values": [1.2015,1.199,1.1965,1.194,1.1915,1.18895,1.18645,1.18395,1.18145,1.17895,1.1764,1.1739,1.1714,1.1689,1.16385,1.16135,1.15885,1.15635,1.15385,1.1513,1.1488,1.1463,1.1438]}},
  "text": {"field": "t"}
 }},
{"data": {"values": [{"i": 28.1, "p": 1.19469, "t": "欧美一小时图表/闫瑞祥"}]},
 "mark": {"type": "text", "font": "Noto Sans CJK SC", "fontSize": 27, "color": "#111111", "align": "left", "baseline": "middle"},
 "encoding": {
  "x": {"field": "i", "type": "quantitative", "scale": {"domain": [0.2, 440.7], "nice": false, "zero": false}, "axis": null},
  "y": {"field": "p", "type": "quantitative", "scale": {"domain": [1.14228, 1.20154], "nice": false, "zero": false},
   "axis": {"orient": "right", "title": null, "format": ".5f", "values": [1.2015,1.199,1.1965,1.194,1.1915,1.18895,1.18645,1.18395,1.18145,1.17895,1.1764,1.1739,1.1714,1.1689,1.16385,1.16135,1.15885,1.15635,1.15385,1.1513,1.1488,1.1463,1.1438]}},
  "text": {"field": "t"}
 }},
{"data": {"name": "tags"},
 "mark": {"type": "point", "shape": "M-4,-1L4,-1L4,1L-4,1Z", "size": 100, "filled": true, "opacity": 1, "strokeWidth": 0},
 "encoding": {
  "x": {"datum": 445.9, "type": "quantitative", "scale": {"domain": [0.2, 440.7], "nice": false, "zero": false}, "axis": null},
  "y": {"field": "p", "type": "quantitative", "scale": {"domain": [1.14228, 1.20154], "nice": false, "zero": false},
   "axis": {"orient": "right", "title": null, "format": ".5f", "values": [1.2015,1.199,1.1965,1.194,1.1915,1.18895,1.18645,1.18395,1.18145,1.17895,1.1764,1.1739,1.1714,1.1689,1.16385,1.16135,1.15885,1.15635,1.15385,1.1513,1.1488,1.1463,1.1438]}},
  "color": {"condition": {"test": "datum.k === 'b'", "value": "#000000"}, "value": "#e8141e"}
 }},
{"data": {"name": "tags"},
 "mark": {"type": "text", "font": "DejaVu Sans", "fontSize": 8, "color": "#ffffff", "align": "center", "baseline": "middle"},
 "encoding": {
  "x": {"datum": 445.9, "type": "quantitative", "scale": {"domain": [0.2, 440.7], "nice": false, "zero": false}, "axis": null},
  "y": {"field": "p", "type": "quantitative", "scale": {"domain": [1.14228, 1.20154], "nice": false, "zero": false},
   "axis": {"orient": "right", "title": null, "format": ".5f", "values": [1.2015,1.199,1.1965,1.194,1.1915,1.18895,1.18645,1.18395,1.18145,1.17895,1.1764,1.1739,1.1714,1.1689,1.16385,1.16135,1.15885,1.15635,1.15385,1.1513,1.1488,1.1463,1.1438]}},
  "text": {"field": "p", "type": "quantitative", "format": ".5f"}
 }}
]
}
